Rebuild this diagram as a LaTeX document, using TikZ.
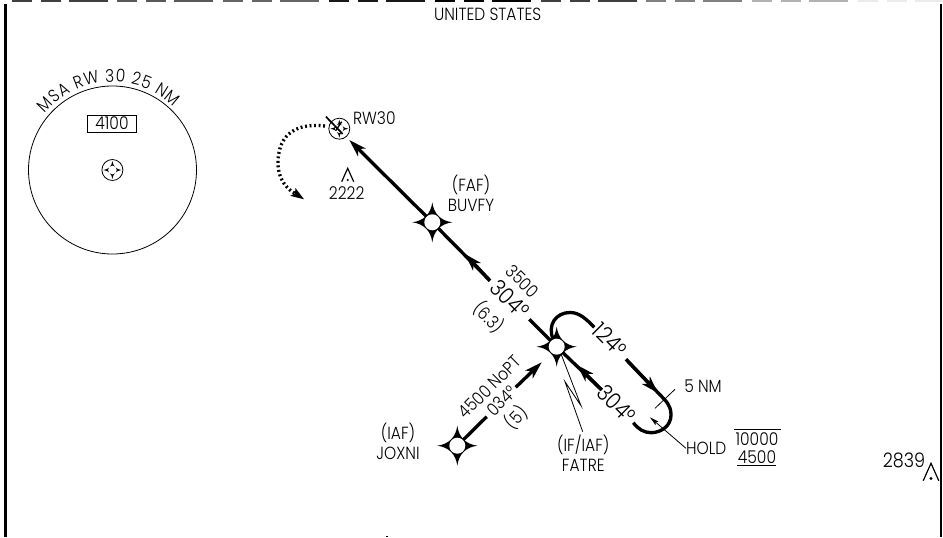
\documentclass[tikz,border=0pt]{standalone}
\usepackage{fontspec}
\setmainfont{Poppins Light}[FakeStretch=0.88]
\usetikzlibrary{arrows.meta, decorations.text}

\newcommand{\lablfont}{\fontsize{13.2}{15}\selectfont}
\newcommand{\trackfont}{\fontsize{17}{19}\selectfont}

\tikzset{
  fixstar/.pic={
    \fill (0,20) .. controls (1.5,8.5) and (8.5,1.5) .. (20,0)
      .. controls (8.5,-1.5) and (1.5,-8.5) .. (0,-20)
      .. controls (-1.5,-8.5) and (-8.5,-1.5) .. (-20,0)
      .. controls (-8.5,1.5) and (-1.5,8.5) .. (0,20) -- cycle;
  },
  obstacle/.pic={
    \draw [line width=0.9pt] (-6,-13.4) -- (0,0) -- (6,-13.4);
    \fill (0,-11.7) circle (1.2);
  }
}

\begin{document}
\begin{tikzpicture}[
    x=0.75pt, y=0.75pt,
    lab/.style={font=\lablfont, inner sep=0pt, align=center},
    track/.style={font=\trackfont, inner sep=0pt},
    hole/.style={circle, fill=white, inner sep=0pt, minimum size=12pt},
    smallfix/.style={circle, draw, line width=0.6pt, inner sep=0pt, minimum size=15.75pt},
    smallhole/.style={circle, fill=white, inner sep=0pt, minimum size=6.5pt},
    leg/.style={line width=2.5pt},
    thinline/.style={line width=0.6pt},
    head/.tip={Stealth[length=13pt, width=8pt, inset=3.5pt]},
    smallhead/.tip={Stealth[length=7pt, width=3.5pt, inset=1.5pt]}]

  \useasboundingbox (0,0) rectangle (943,537);

  % Clipped frame of the sheet
  \foreach \dashx/\dashshade in {12/75,117/65,223/60,329/90,435/100,541/75,646/50,752/30,858/8} {
    \fill [black!\dashshade] (\dashx,535.4) rectangle ++(20,1.6);
    \fill [black!\dashshade] (\dashx+29,535.4) rectangle ++(20,1.6);
    \fill [black!\dashshade] (\dashx+57,535.4) rectangle ++(39,1.6);
  }
  \draw [line width=1.7pt] (5.5,0) -- (5.5,533);
  \draw [line width=1.7pt] (941.3,0) -- (941.3,533);
  \fill (386,0) rectangle ++(1.5,1.5);

  \node (country) [lab] at (487.7,522.3) {UNITED STATES};

  % MSA circle
  \node (msafix) [smallfix] at (112.4,367) {};
  \pic [scale=0.45] at (msafix) {fixstar};
  \node [smallhole] at (msafix) {};
  \draw [line width=0.6pt] (112.5,367) circle (84);
  \path [decorate, decoration={text along path, text align=fit to path,
      text={|\lablfont|MSA RW 30 25 NM}}] (45.1,423.6) arc (140:46:88);
  \node (msaalt) [lab, draw, line width=0.6pt, minimum width=37pt, minimum height=12.75pt] at (112,413.5) {4100};

  % Place fixes
  \node (rwfix) [smallfix] at (339.3,408.3) {};
  \pic [scale=0.45] at (rwfix) {fixstar};
  \node [smallhole] at (rwfix) {};
  \pic at (432.3,314.7) {fixstar};
  \node (buvfy) [hole] at (432.3,314.7) {};
  \pic at (556.7,190.3) {fixstar};
  \node (fatre) [hole] at (556.7,190.3) {};
  \pic at (457.3,91.3) {fixstar};
  \node (joxni) [hole] at (457.3,91.3) {};

  % Runway mark
  \draw [line width=1.3pt] (326,420.3) -- (342.7,403);
  \draw [line width=1pt] (335.7,406.3) -- (341.7,415.3);

  % Fix names
  \node (rwlab) [lab] at (374.3,418.7) {RW30};
  \node (buvlab) [lab] at (471,344) {(FAF)\\BUVFY};
  \node (joxlab) [lab] at (398,96) {(IAF)\\JOXNI};
  \node (iflab) [lab] at (583.3,84) {(IF/IAF)\\FATRE};

  % Coordinates at the breaks in the legs
  \coordinate (rwtip) at (349.3,397);
  \coordinate (gapa) at (490,256.3);
  \coordinate (tipa) at (465,283);
  \coordinate (gapb) at (529.3,217.7);
  \coordinate (gapc) at (601.7,147);
  \coordinate (tipc) at (577,172);
  \coordinate (gapd) at (594.3,209.7);
  \coordinate (gape) at (626,177.7);
  \coordinate (tipe) at (658,144);
  \coordinate (gapf) at (665,137);
  \coordinate (gapg) at (633.3,114.3);
  \coordinate (gaph) at (486.7,120.3);
  \coordinate (gapi) at (515.7,149.7);
  \coordinate (tipi) at (541.7,174.7);

  % Final approach
  \draw [leg, -{head}] (buvfy) -- (rwtip);
  \draw [leg] (buvfy) -- (gapa);
  \draw [leg, -{head}] (gapa) -- (tipa);
  \draw [leg] (gapb) -- (fatre);
  \draw [leg] (gapc) -- (fatre);
  \draw [leg, -{head}] (gapc) -- (tipc);

  % Feeder from JOXNI
  \draw [leg] (joxni) -- (gaph);
  \draw [leg, -{head}] (gapi) -- (tipi);

  % Holding pattern
  \draw [leg] (fatre.115) .. controls (547,212) and (556,224.5) .. (570,224.5)
    .. controls (580,224.5) and (587,217) .. (gapd);
  \draw [leg, -{head}] (gape) -- (tipe);
  \draw [leg] (gape) -- (gapf)
    .. controls (670,131) and (671,127) .. (671,122)
    .. controls (671,111) and (661,104.3) .. (651,104.3)
    .. controls (644,104.3) and (638,108) .. (gapg);

  % Missed approach turn
  \coordinate (turnstart) at (325,411);
  \coordinate (turnend) at (296,343);
  \coordinate (turntip) at (304,337.7);
  \draw [line width=2.5pt, dash pattern=on 1.4pt off 2pt] (turnstart)
    .. controls (290,415) and (278,397) .. (278,374)
    .. controls (278,357) and (288,347) .. (turnend);
  \draw [line width=1pt, -{Stealth[length=10pt, width=7pt, inset=2pt]}] (turnend) -- (turntip);

  % Track labels
  \node (alta) [lab, rotate=-45] at (522.5,256) {3500};
  \node (tracka) [track, rotate=-45] at (510,238) {304°};
  \node (dista) [lab, rotate=-45] at (489,219.5) {(6.3)};
  \node (trackb) [track, rotate=-45] at (616.7,133) {304°};
  \node (trackc) [track, rotate=-45] at (610,197) {124°};
  \node (altb) [lab, rotate=45] at (489.5,150) {4500 NoPT};
  \node (trackd) [lab, rotate=45] at (501.7,136) {034°};
  \node (distb) [lab, rotate=45] at (516,119.5) {(5)};

  % Leader to FATRE
  \coordinate (zigtop) at (581,131.3);
  \coordinate (zigbot) at (565,155.3);
  \coordinate (zigend) at (582.7,105.3);
  \draw [thinline] (fatre.-59) -- (zigtop) -- (zigbot) -- (zigend);

  % Hold details
  \coordinate (ticka) at (655,128.7);
  \coordinate (tickb) at (675,147.7);
  \draw [thinline] (ticka) -- (tickb);
  \node (nmlab) [lab] at (703,151) {5 NM};
  \node (holdlab) [lab] at (706.3,88.7) {HOLD};
  \coordinate (holdtip) at (650,119.7);
  \draw [thinline, -{smallhead}] (holdlab.west) -- (holdtip);
  \node (maxalt) [lab] at (757,97.7) {10000};
  \node (minalt) [lab] at (757,80.3) {4500};
  \draw [thinline] (734,107.3) -- (781,107.3);
  \draw [thinline] (737,71.7) -- (776,71.7);

  % Obstacles
  \pic at (347.7,368.7) {obstacle};
  \node (obsa) [lab] at (346.7,344.3) {2222};
  \pic [scale=1.3] at (931,73.7) {obstacle};
  \node (obsb) [lab, font=\fontsize{15}{17}\selectfont] at (904,76.3) {2839};
\end{tikzpicture}
\end{document}
